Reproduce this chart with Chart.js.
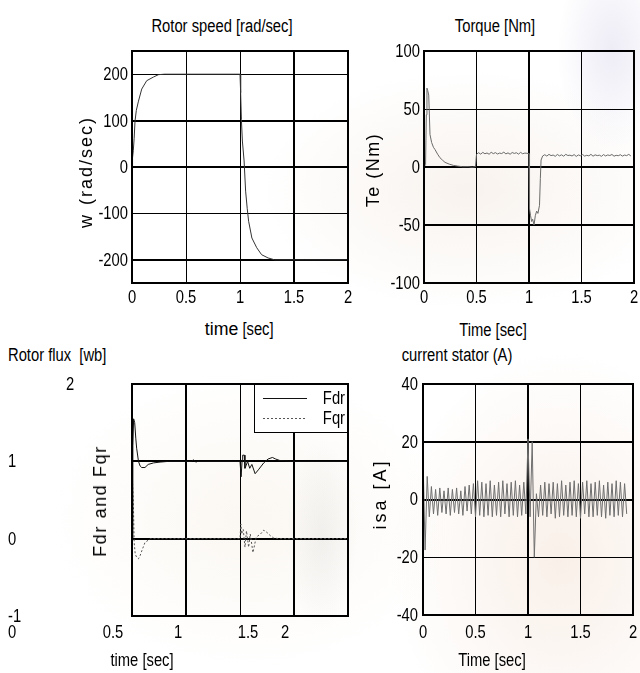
<!DOCTYPE html>
<html>
<head>
<meta charset="utf-8">
<title>Induction motor speed reversal</title>
<script src="https://cdn.jsdelivr.net/npm/chart.js@4.4.1/dist/chart.umd.min.js"></script>
<style>
  html, body { margin: 0; padding: 0; }
  body {
    width: 640px; height: 673px; position: relative; overflow: hidden; background: #fff;
    font-family: 'Liberation Sans', Arial, sans-serif; color: #000;
  }
  .wash {
    position: absolute; left: 0; top: 0; width: 640px; height: 673px;
    background:
      radial-gradient(ellipse 55px 100px at 612px 50px, rgba(205,200,228,0.35), rgba(205,200,228,0)),
      radial-gradient(ellipse 210px 120px at 470px 190px, rgba(238,224,212,0.4), rgba(238,224,212,0)),
      radial-gradient(ellipse 170px 210px at 560px 560px, rgba(243,224,210,0.5), rgba(243,224,210,0)),
      radial-gradient(ellipse 35px 95px at 322px 535px, rgba(200,200,200,0.22), rgba(200,200,200,0)),
      radial-gradient(ellipse 200px 150px at 250px 520px, rgba(246,238,226,0.45), rgba(246,238,226,0));
  }
  .panel { position: absolute; }
  .panel canvas { display: block; }
  .txt { position: absolute; font-size: 18px; line-height: 1; white-space: nowrap; z-index: 2; }
  .mid { transform: translate(-50%, -50%) scaleX(0.82); }
  .lft { transform-origin: 0 50%; transform: translate(0, -50%) scaleX(0.82); }
  .rot { transform: translate(-50%, -50%) rotate(-90deg); }
  .wide { display: inline-block; transform: scaleX(1.2); transform-origin: 100% 50%; }
  .gap { display: inline-block; width: 8px; }
</style>
</head>
<body>
<div class="wash"></div>

<div class="panel" style="left:0px;top:39px;"><canvas id="speedChart" width="354" height="279"></canvas></div>
<div class="panel" style="left:360px;top:39px;"><canvas id="torqueChart" width="280" height="279"></canvas></div>
<div class="panel" style="left:0px;top:372px;"><canvas id="fluxChart" width="354" height="298"></canvas></div>
<div class="panel" style="left:360px;top:372px;"><canvas id="currentChart" width="279" height="283"></canvas></div>

<div class="txt mid" style="left:222px;top:26px;">Rotor speed [rad/sec]</div>
<div class="txt mid" style="left:495px;top:26px;">Torque [Nm]</div>
<div class="txt rot" style="left:86px;top:172px;letter-spacing:2px;">w<span class="gap"></span>(rad/sec)</div>
<div class="txt rot" style="left:373px;top:170px;letter-spacing:1.5px;">Te (Nm)</div>
<div class="txt mid" style="left:242px;top:329px;"><span class="wide">time</span> [sec]</div>
<div class="txt mid" style="left:493px;top:330px;">Time [sec]</div>

<div class="txt lft" style="left:8px;top:355px;">Rotor flux&nbsp; [wb]</div>
<div class="txt mid" style="left:457px;top:355px;">current stator (A)</div>
<div class="txt rot" style="left:100px;top:501px;letter-spacing:1.6px;">Fdr and Fqr</div>
<div class="txt rot" style="left:380px;top:494px;letter-spacing:3px;">isa [A]</div>
<div class="txt mid" style="left:142px;top:660px;">time [sec]</div>
<div class="txt mid" style="left:492px;top:660px;">Time [sec]</div>

<script>
// ---- Rotor speed (rad/s) ----
const speedTime  = [0, 0.005, 0.012, 0.02, 0.028, 0.04, 0.06, 0.09, 0.136, 0.2, 0.245, 0.3, 0.6, 1.0,
                    1.006, 1.013, 1.022, 1.038, 1.052, 1.067, 1.08, 1.11, 1.155, 1.2, 1.26, 1.32, 1.6, 2.0];
const speedValue = [0, 20, 35, 62, 99, 122, 142, 168, 186, 194, 199, 200, 200, 200,
                    160, 102, 56, 13, -52, -90, -117, -153, -174, -189, -196, -200, -200, -200];

// ---- Electromagnetic torque (Nm) ----
const torqueTime = [0, 0.015, 0.022, 0.028, 0.035, 0.045, 0.057, 0.073, 0.09, 0.105, 0.13, 0.152, 0.175, 0.2,
                    0.24, 0.28, 0.32, 0.37, 0.42, 0.46, 0.49, 0.5,
                    0.52, 0.54, 0.56, 0.58, 0.6, 0.62, 0.64, 0.66, 0.68, 0.7, 0.72, 0.74,
                    0.76, 0.78, 0.8, 0.82, 0.84, 0.86, 0.88, 0.9, 0.92, 0.94, 0.96, 0.98,
                    1.0, 1.005, 1.015, 1.025, 1.035, 1.048, 1.06, 1.073, 1.085, 1.1, 1.108, 1.115, 1.13,
                    1.15, 1.17, 1.19, 1.21, 1.23, 1.25, 1.27, 1.29, 1.31, 1.33, 1.35, 1.37, 1.39, 1.41,
                    1.43, 1.45, 1.47, 1.49, 1.51, 1.53, 1.55, 1.57, 1.59, 1.61, 1.63, 1.65, 1.67, 1.69,
                    1.71, 1.73, 1.75, 1.77, 1.79, 1.81, 1.83, 1.85, 1.87, 1.89, 1.91, 1.93, 1.95, 1.97];
const torqueValue = [0, 2, 45, 68, 66, 62, 28, 21, 17, 15, 11, 8, 6, 4,
                     2.5, 1.4, 0.8, 0.2, 0.3, -0.2, 0.3, 11,
                     12.3, 11.1, 12.6, 11.4, 12.1, 11.0, 12.7, 11.5, 12.4, 11.2, 12.0, 11.6,
                     12.8, 11.3, 12.2, 11.0, 12.5, 11.7, 12.3, 11.1, 12.6, 11.4, 12.0, 11.8,
                     11.5, -36, -42, -47, -45, -50, -42, -38, -40, -33, -10, 6, 9.5,
                     10.6, 9.4, 10.9, 9.8, 10.3, 9.2, 10.8, 9.6, 10.5, 9.3, 10.9, 9.9, 10.2,
                     9.5, 10.7, 9.1, 10.4, 9.7, 10.8, 9.4, 10.1, 9.6, 10.9, 9.3, 10.5, 9.8,
                     10.2, 9.2, 10.7, 9.5, 10.4, 9.9, 10.8, 9.3, 10.1, 9.7, 10.6, 9.4, 10.3, 9.8, 10.9, 9.5];

// ---- Rotor flux components (Wb) ----
const fdrTime  = [0, 0.008, 0.015, 0.025, 0.035, 0.043, 0.06, 0.075, 0.09, 0.12, 0.15, 0.2, 0.26, 0.34,
                  0.55, 0.57, 0.59, 0.61, 1.0, 1.01, 1.02, 1.025, 1.04, 1.046, 1.058, 1.07, 1.09, 1.11,
                  1.14, 1.17, 1.22, 1.26, 1.3, 1.33, 1.37, 1.48, 2.0];
const fdrValue = [0, 1.2, 1.55, 1.5, 1.3, 1.17, 1.0, 0.94, 0.92, 0.92, 0.96, 0.98, 0.99, 1.0,
                  1.0, 1.02, 0.99, 1.0, 1.0, 0.8, 1.02, 1.08, 1.08, 0.91, 0.95, 1.0, 0.91, 0.96,
                  0.84, 0.89, 0.98, 1.03, 1.05, 1.03, 1.01, 1.0, 1.0];
const fqrTime  = [0, 0.005, 0.012, 0.02, 0.03, 0.043, 0.06, 0.075, 0.09, 0.12, 0.17, 1.0, 1.008, 1.015,
                  1.03, 1.046, 1.06, 1.08, 1.095, 1.12, 1.15, 1.19, 1.22, 1.25, 1.28, 1.31, 1.36, 2.0];
const fqrValue = [0, 0.72, 0.5, -0.05, -0.2, -0.24, -0.26, -0.22, -0.16, -0.05, 0, 0, 0.19, 0.06,
                  0.12, -0.11, 0.1, -0.11, 0.06, -0.18, 0.02, 0.06, 0.11, 0.08, 0.04, 0.01, 0, 0];

// ---- Stator current phase a (A), sampled every 20 ms ----
const currentStep = 0.02;
const currentValue = [15, -17.5, 8, -6, 4.5, -5, 3.5, -5.5, 4, -4.5, 3, -5, 4, -5.5, 3.5, -4.5, 4, -5, 3, -5.5,
                      4.5, -4, 5, -5, 5.5, -6, 6.5, -5.5, 6, -6, 5.5, -5.5, 6.5, -6, 5, -5.5, 6, -6, 6.5, -5,
                      5.5, -6, 6, -5.5, 6.5, -6, 5, -5.5, 6, -5, 21, -6, 20, -20, 2, -6, 5, -5.5, 6, -6,
                      5.5, -5, 6, -6.5, 5.5, -6, 6.5, -5.5, 5, -6, 6, -5.5, 6.5, -6, 5.5, -6.5, 6, -5, 6.5, -6,
                      5.5, -6, 6, -5.5, 6.5, -6, 5, -6.5, 6, -5.5, 5.5, -6, 6.5, -5.5, 6, -6, 5.5, -5];

// ---- Axis ticks ----
const timeTicks    = [0, 0.5, 1, 1.5, 2];
const timeLabels   = ['0', '0.5', '1', '1.5', '2'];
const speedTicks   = [-250, -200, -100, 0, 100, 200, 250];
const speedLabels  = ['', '-200', '-100', '0', '100', '200', ''];
const torqueTicks  = [-100, -50, 0, 50, 100];
const torqueLabels = ['-100', '-50', '0', '50', '100'];
const fluxTicks    = [-1, 0, 1, 2];
const fluxLabels   = ['-1', '0', '1', '2'];
const fluxTimeLabels = ['0', '0.5', '1', '1.5', '2'];
const currentTicks  = [-40, -20, 0, 20, 40];
const currentLabels = ['-40', '-20', '0', '20', '40'];

const FONT = "'Liberation Sans', Arial, sans-serif";
const NARROW = 0.82;
const pairs = (xs, ys) => ys.map((y, i) => ({ x: xs[i], y }));

// Condensed text drawn at an anchor point
function narrowText(ctx, text, x, y, align, baseline) {
  ctx.save();
  ctx.translate(x, y);
  ctx.scale(NARROW, 1);
  ctx.textAlign = align;
  ctx.textBaseline = baseline;
  ctx.fillText(text, 0, 0);
  ctx.restore();
}

// Full black frame around the plotting area
const frame = {
  id: 'frame',
  afterDatasetsDraw(chart) {
    const { ctx, chartArea: a } = chart;
    ctx.save();
    ctx.strokeStyle = '#000';
    ctx.lineWidth = 2;
    ctx.strokeRect(Math.round(a.left), Math.round(a.top), Math.round(a.right - a.left), Math.round(a.bottom - a.top));
    ctx.restore();
  }
};

// Tick labels placed from the chart's scales, set in a condensed face
function tickText(xLabels, yLabels, xPad, yPad) {
  return {
    id: 'tickText',
    afterDraw(chart) {
      const { ctx, chartArea: a, scales } = chart;
      ctx.save();
      ctx.fillStyle = '#000';
      ctx.font = '18px ' + FONT;
      scales.x.ticks.forEach((t, i) => {
        if (xLabels[i]) narrowText(ctx, xLabels[i], scales.x.getPixelForValue(t.value), a.bottom + xPad, 'center', 'middle');
      });
      scales.y.ticks.forEach((t, i) => {
        if (yLabels[i]) narrowText(ctx, yLabels[i], a.left - yPad, scales.y.getPixelForValue(t.value) + 1, 'right', 'middle');
      });
      ctx.restore();
    }
  };
}

// Boxed legend in the upper right corner of the flux plot
const insetLegend = {
  id: 'insetLegend',
  afterDatasetsDraw(chart) {
    const { ctx, chartArea: a } = chart;
    const w = 94, h = 49, x = a.right - w, y = a.top;
    ctx.save();
    ctx.fillStyle = '#fff';
    ctx.fillRect(x, y, w, h);
    ctx.strokeStyle = '#000';
    ctx.lineWidth = 1;
    ctx.strokeRect(x + 0.5, y + 0.5, w - 1, h - 1);
    ctx.font = '18px ' + FONT;
    chart.data.datasets.forEach((ds, i) => {
      const ly = y + 14 + i * 20;
      ctx.strokeStyle = ds.borderColor;
      ctx.setLineDash(ds.borderDash || []);
      ctx.beginPath();
      ctx.moveTo(x + 9, ly + 0.5);
      ctx.lineTo(x + 53, ly + 0.5);
      ctx.stroke();
      ctx.setLineDash([]);
      ctx.fillStyle = '#000';
      narrowText(ctx, ds.label, a.right - 3, ly + 1, 'right', 'middle');
    });
    ctx.restore();
  }
};

// Flux plot tick texts sit far to the left / under the plot
const fluxTickText = {
  id: 'fluxTickText',
  afterDraw(chart) {
    const { ctx } = chart;
    const ys = chart.scales.y;
    const yLabelX = [8, 8, 8, 70];
    const yLabelAlign = ['left', 'left', 'left', 'center'];
    const xLabelX = [12, 113, 178, 248, 285];
    ctx.save();
    ctx.fillStyle = '#000';
    ctx.font = '18px ' + FONT;
    fluxTicks.forEach((v, i) => {
      narrowText(ctx, fluxLabels[i], yLabelX[i], ys.getPixelForValue(v) + 1, yLabelAlign[i], 'middle');
    });
    fluxTimeLabels.forEach((t, i) => narrowText(ctx, t, xLabelX[i], 633 - 372, 'center', 'middle'));
    ctx.restore();
  }
};

function axis(ticks, widths, fitKey, fitSize) {
  return {
    type: 'linear',
    min: ticks[0],
    max: ticks[ticks.length - 1],
    afterBuildTicks: s => { s.ticks = ticks.map(v => ({ value: v })); },
    afterFit: s => { s[fitKey] = fitSize; },
    ticks: { display: false, autoSkip: false },
    grid: { color: '#000', drawTicks: false, lineWidth: c => widths[c.index] },
    border: { display: false }
  };
}

function plot(id, datasets, xAxis, yAxis, extra) {
  return new Chart(document.getElementById(id), {
    type: 'line',
    data: { datasets },
    options: {
      responsive: false, animation: false,
      layout: { padding: { top: 12, right: 6, left: 0, bottom: 0 } },
      elements: { point: { radius: 0 }, line: { tension: 0, borderWidth: 1 } },
      plugins: { legend: { display: false }, tooltip: { enabled: false } },
      scales: { x: xAxis, y: yAxis }
    },
    plugins: [...extra, frame]
  });
}

plot('speedChart',
  [{ data: pairs(speedTime, speedValue), borderColor: '#333' }],
  axis(timeTicks, [0, 1, 1, 2, 0], 'height', 35),
  axis(speedTicks, [0, 2, 1, 2, 2, 1, 0], 'width', 132),
  [tickText(timeLabels, speedLabels, 15, 4)]);

plot('torqueChart',
  [{ data: pairs(torqueTime, torqueValue), borderColor: '#6a6a6a' }],
  axis(timeTicks, [0, 1, 2, 1, 0], 'height', 35),
  axis(torqueTicks, [0, 2, 2, 1, 0], 'width', 64),
  [tickText(timeLabels, torqueLabels, 15, 4)]);

plot('fluxChart',
  [{ label: 'Fdr', data: pairs(fdrTime, fdrValue), borderColor: '#111' },
   { label: 'Fqr', data: pairs(fqrTime, fqrValue), borderColor: '#555', borderDash: [2, 2] }],
  axis(timeTicks, [0, 2, 1, 2, 0], 'height', 54),
  axis(fluxTicks, [0, 2, 2, 0], 'width', 132),
  [insetLegend, fluxTickText]);

plot('currentChart',
  [{ data: currentValue.map((v, i) => ({ x: i * currentStep, y: v })), borderColor: '#6e6e6e' }],
  axis(timeTicks, [0, 1, 2, 1, 0], 'height', 40),
  axis(currentTicks, [0, 1, 2, 2, 0], 'width', 63),
  [tickText(timeLabels, currentLabels, 18, 5)]);
</script>
</body>
</html>
